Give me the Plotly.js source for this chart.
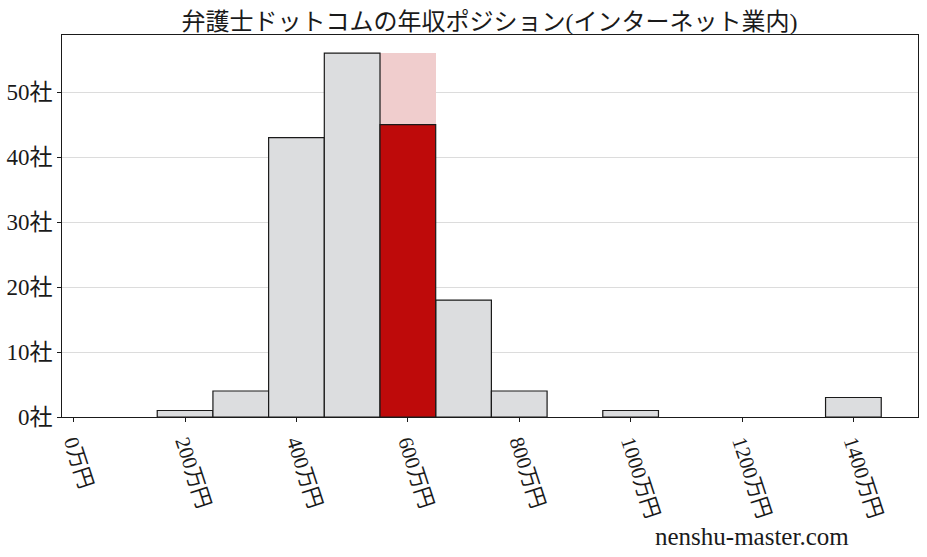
<!DOCTYPE html>
<html>
<head>
<meta charset="utf-8">
<script src="https://cdn.plot.ly/plotly-3.0.1.min.js"></script>
<style>
  html, body { margin: 0; padding: 0; background: #fff; }
  #chart { width: 927px; height: 557px; }
</style>
</head>
<body>
<div id="chart"></div>
<script>
// salary bins (万円, bin centre) and number of companies in each
const binCenters = [200, 300, 400, 500, 600, 700, 800, 1000, 1400];
const binCounts = [1, 4, 43, 56, 45, 18, 4, 1, 3];
const binWidth = 100;
// the bin this company falls into
const highlightBin = 600;
const xTickVals = [0, 200, 400, 600, 800, 1000, 1200, 1400];
const xTickText = ["0万円", "200万円", "400万円", "600万円", "800万円", "1000万円", "1200万円", "1400万円"];
const yTickVals = [0, 10, 20, 30, 40, 50];
const yTickText = ["0社", "10社", "20社", "30社", "40社", "50社"];
const titleText = "弁護士ドットコムの年収ポジション(インターネット業内)";

const FONT = "'Liberation Serif', 'DejaVu Serif', 'Noto Sans CJK JP', serif";
const maxCount = Math.max(...binCounts);
const hi = binCenters.indexOf(highlightBin);

const greyX = binCenters.filter((_, i) => i !== hi);
const greyY = binCounts.filter((_, i) => i !== hi);

const data = [
  {
    // pale band marking the highlighted bin
    type: "bar",
    x: [highlightBin],
    y: [maxCount],
    width: binWidth,
    marker: { color: "#f0cdcd", line: { width: 0 } },
    hoverinfo: "none",
  },
  {
    type: "bar",
    x: greyX,
    y: greyY,
    width: binWidth,
    marker: { color: "#dcdddf", line: { color: "#1a1a1a", width: 1.2 } },
    hoverinfo: "none",
  },
  {
    type: "bar",
    x: [highlightBin],
    y: [binCounts[hi]],
    width: binWidth,
    marker: { color: "#be0a0a", line: { color: "#1a1a1a", width: 1.2 } },
    hoverinfo: "none",
  },
];

const layout = {
  width: 927,
  height: 557,
  margin: { l: 62, r: 9, t: 35, b: 140 },
  paper_bgcolor: "#ffffff",
  plot_bgcolor: "#ffffff",
  barmode: "overlay",
  bargap: 0,
  showlegend: false,
  font: { family: FONT, color: "#1a1a1a", size: 20 },
  title: {
    text: titleText,
    font: { family: FONT, size: 24, color: "#1a1a1a" },
    x: 0.528,
    xanchor: "center",
    y: 0.962,
    yanchor: "middle",
  },
  xaxis: {
    range: [-21, 1516],
    tickvals: xTickVals,
    ticktext: xTickText,
    tickangle: 72,
    ticks: "outside",
    ticklen: 4,
    tickcolor: "#1a1a1a",
    showgrid: false,
    zeroline: false,
    showline: true,
    linecolor: "#1a1a1a",
    linewidth: 1,
    mirror: true,
    tickfont: { family: FONT, size: 21, color: "#1a1a1a" },
  },
  yaxis: {
    range: [0, 58.8],
    tickvals: yTickVals,
    ticktext: yTickText,
    ticks: "outside",
    ticklen: 4,
    tickcolor: "#1a1a1a",
    showgrid: true,
    gridcolor: "#dcdcdc",
    gridwidth: 1,
    zeroline: false,
    showline: true,
    linecolor: "#1a1a1a",
    linewidth: 1,
    mirror: true,
    tickfont: { family: FONT, size: 23, color: "#1a1a1a" },
  },
  annotations: [
    {
      text: "nenshu-master.com",
      xref: "paper",
      yref: "paper",
      x: 0.806,
      y: -0.314,
      xanchor: "center",
      yanchor: "middle",
      showarrow: false,
      font: { family: FONT, size: 25, color: "#1a1a1a" },
    },
  ],
};

Plotly.newPlot("chart", data, layout, { staticPlot: true, displayModeBar: false });
</script>
</body>
</html>
